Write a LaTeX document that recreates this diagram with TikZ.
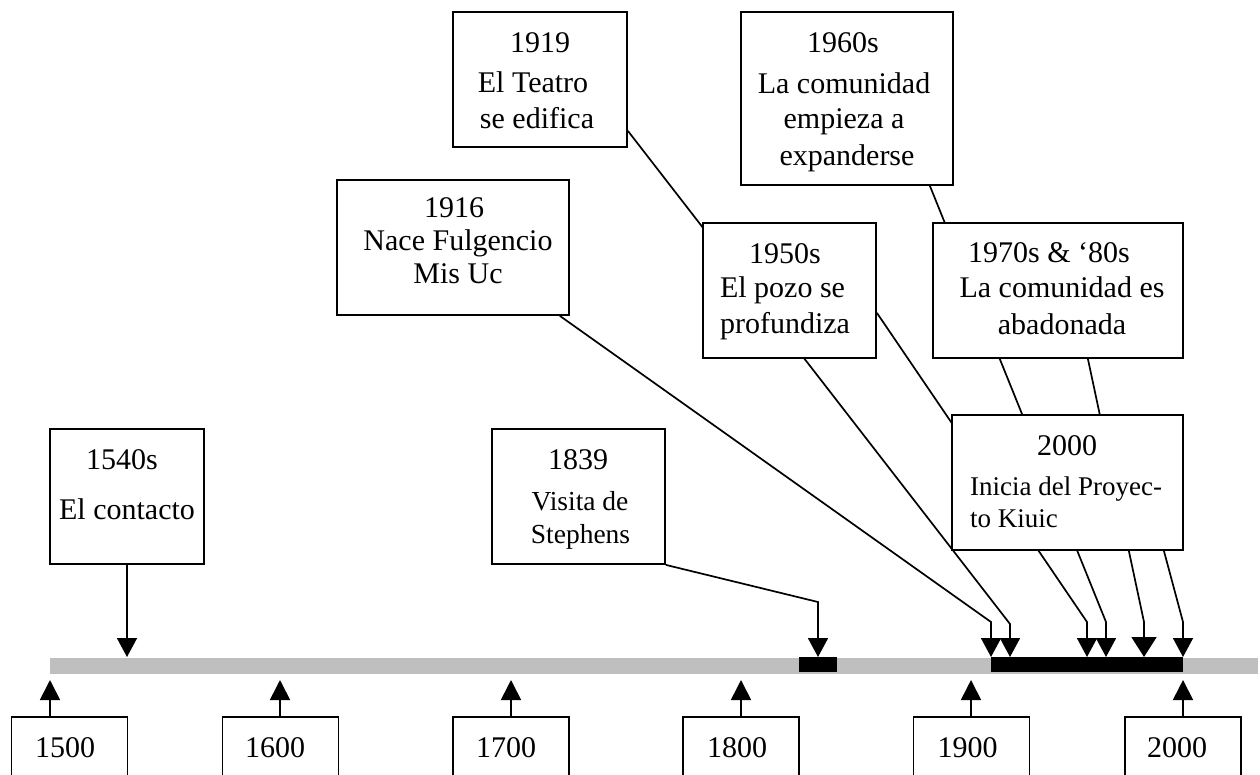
\documentclass[tikz,border=0pt]{standalone}
\usepackage{fontspec}
\setmainfont{Liberation Serif}
\usetikzlibrary{arrows.meta}
\begin{document}
\begin{tikzpicture}[x=1pt,y=-1pt,
  evbox/.style={draw, line width=1.8pt, fill=white, inner sep=0pt},
  yrbox/.style={draw, line width=1.8pt, fill=white, inner sep=0pt, minimum width=116pt, minimum height=60pt},
  txt/.style={anchor=base, inner sep=0pt, font=\fontsize{30}{35}\selectfont},
  txts/.style={anchor=base, inner sep=0pt, font=\fontsize{27.5}{33}\selectfont},
  txtl/.style={anchor=base west, inner sep=0pt, font=\fontsize{27}{33}\selectfont},
  conn/.style={line width=1.7pt, -{Triangle[width=20pt,length=19pt]}},
  connbig/.style={line width=1.7pt, -{Triangle[width=25pt,length=20pt]}},
  uparr/.style={line width=1.7pt, -{Triangle[width=20pt,length=20pt]}},
]
\useasboundingbox (0,0) rectangle (1260,774);
\clip (0,0) rectangle (1260,774);

% timeline bar
\fill[gray!50] (50,658) rectangle (1258,674);
\fill[black] (799,657) rectangle (837,672);
\fill[black] (991,657) rectangle (1183,672);

% arrow tip coordinates on the timeline
\coordinate (a1540) at (127,657);
\coordinate (k1839) at (818,602);
\coordinate (a1839) at (818,657);
\coordinate (k1916) at (991,622);
\coordinate (a1916) at (991,657);
\coordinate (k1919) at (1010,624);
\coordinate (a1919) at (1010,657);
\coordinate (k1950) at (1087,622);
\coordinate (a1950) at (1087,657);
\coordinate (k1960) at (1106,622);
\coordinate (a1960) at (1106,657);
\coordinate (k1970) at (1144,622);
\coordinate (a1970) at (1144,657);
\coordinate (k2000) at (1183,622);
\coordinate (a2000) at (1183,657);

% event boxes (positions)
\path
  (540,79.5)   node[evbox, minimum width=174pt, minimum height=135pt] (b1919) {}
  (453,247.5)  node[evbox, minimum width=232pt, minimum height=135pt] (b1916) {}
  (847,98.5)   node[evbox, minimum width=212pt, minimum height=173pt] (b1960) {}
  (789.5,290.5) node[evbox, minimum width=173pt, minimum height=135pt] (b1950) {}
  (1058,290.5) node[evbox, minimum width=250pt, minimum height=135pt] (b1970) {}
  (1067.5,482.5) node[evbox, minimum width=231pt, minimum height=135pt] (b2000) {}
  (127,496.5)  node[evbox, minimum width=154pt, minimum height=135pt] (b1540) {}
  (578.5,496.5) node[evbox, minimum width=173pt, minimum height=135pt] (b1839) {};

% connectors (drawn, then boxes redrawn on top)
\draw[conn] (b1540.south) -- (a1540);
\draw[conn] (b1839.south east) -- (k1839) -- (a1839);
\draw[conn] ([xshift=-10pt]b1916.south east) -- (k1916) -- (a1916);
\draw[conn] ([yshift=17pt]b1919.south east) -- (k1919) -- (a1919);
\draw[conn] ([yshift=46pt]b1950.south east) -- (k1950) -- (a1950);
\draw[conn] ([xshift=-24pt]b1960.south east) -- (k1960) -- (a1960);
\draw[connbig] ([xshift=-96pt]b1970.south east) -- (k1970) -- (a1970);
\draw[conn] ([xshift=-20pt]b2000.south east) -- (k2000) -- (a2000);

% boxes on top of the connectors
\node[evbox, minimum width=174pt, minimum height=135pt] (c1919) at (b1919) {};
\node[evbox, minimum width=232pt, minimum height=135pt] (c1916) at (b1916) {};
\node[evbox, minimum width=212pt, minimum height=173pt] (c1960) at (b1960) {};
\node[evbox, minimum width=173pt, minimum height=135pt] (c1950) at (b1950) {};
\node[evbox, minimum width=250pt, minimum height=135pt] (c1970) at (b1970) {};
\node[evbox, minimum width=231pt, minimum height=135pt] (c2000) at (b2000) {};
\node[evbox, minimum width=154pt, minimum height=135pt] (c1540) at (b1540) {};
\node[evbox, minimum width=173pt, minimum height=135pt] (c1839) at (b1839) {};

% texts
\node[txt] (t1919a) at (540,52) {1919};
\node[txt] (t1919b) at (533,92) {El Teatro};
\node[txt] (t1919c) at (537,128) {se edifica};

\node[txt] (t1916a) at (454,217) {1916};
\node[txt] (t1916b) at (458,250) {Nace Fulgencio};
\node[txt] (t1916c) at (458,283) {Mis Uc};

\node[txt] (t1960a) at (843,52) {1960s};
\node[txt] (t1960b) at (844,93) {La comunidad};
\node[txt] (t1960c) at (844,128) {empieza a};
\node[txt] (t1960d) at (847,165) {expanderse};

\node[txt] (t1950a) at (785,263) {1950s};
\node[txt] (t1950b) at (782.5,297) {El pozo se};
\node[txt] (t1950c) at (785,333) {profundiza};

\node[txt] (t1970a) at (1049,262) {1970s \&\ ‘80s};
\node[txt] (t1970b) at (1062,297) {La comunidad es};
\node[txt] (t1970c) at (1062,334) {abadonada};

\node[txt] (t2000a) at (1067,455) {2000};
\node[txtl] (t2000b) at (970,495) {Inicia del Proyec-};
\node[txtl] (t2000c) at (970,527) {to Kiuic};

\node[txt] (t1540a) at (122,469) {1540s};
\node[txt] (t1540b) at (127,519) {El contacto};

\node[txt] (t1839a) at (578,469) {1839};
\node[txts] (t1839b) at (580,510) {Visita de};
\node[txts] (t1839c) at (580.5,543) {Stephens};

% century markers below the timeline
\coordinate (u1500) at (50,680);
\coordinate (u1600) at (280,680);
\coordinate (u1700) at (511,680);
\coordinate (u1800) at (741,680);
\coordinate (u1900) at (971,680);
\coordinate (u2000) at (1183,680);

\node[yrbox] (y1500) at (69.5,747) {};
\node[yrbox] (y1600) at (280.5,747) {};
\node[yrbox] (y1700) at (511,747) {};
\node[yrbox] (y1800) at (741,747) {};
\node[yrbox] (y1900) at (971.5,747) {};
\node[yrbox] (y2000) at (1183,747) {};

\draw[uparr] (y1500.north -| u1500) -- (u1500);
\draw[uparr] (y1600.north -| u1600) -- (u1600);
\draw[uparr] (y1700.north -| u1700) -- (u1700);
\draw[uparr] (y1800.north -| u1800) -- (u1800);
\draw[uparr] (y1900.north -| u1900) -- (u1900);
\draw[uparr] (y2000.north -| u2000) -- (u2000);

\node[txt] (n1500) at (65,757) {1500};
\node[txt] (n1600) at (275,757) {1600};
\node[txt] (n1700) at (506,757) {1700};
\node[txt] (n1800) at (737,757) {1800};
\node[txt] (n1900) at (967.5,757) {1900};
\node[txt] (n2000) at (1177,757) {2000};
\end{tikzpicture}
\end{document}
